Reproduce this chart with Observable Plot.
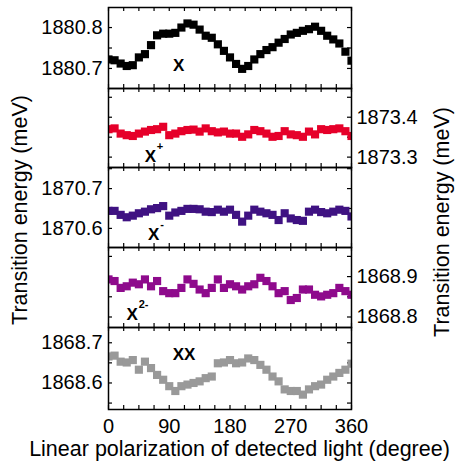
<!DOCTYPE html>
<html><head><meta charset="utf-8">
<script src="https://cdn.jsdelivr.net/npm/d3@7"></script>
<script src="https://cdn.jsdelivr.net/npm/@observablehq/plot@0.6"></script>
<style>
body{margin:0;background:#fff;}
#chart{position:relative;width:455px;height:466px;overflow:hidden;font-family:"Liberation Sans",Arial,sans-serif;}
#chart svg{position:absolute;left:0;overflow:visible;}
.ytitle{position:absolute;font-size:21.5px;white-space:nowrap;line-height:1;transform:translate(-50%,-50%) rotate(-90deg);color:#000;}
</style>
</head><body>
<div id="chart"></div>
<script>
const angles = [0,9,18,27,36,45,54,63,72,81,90,99,108,117,126,135,144,153,162,171,180,189,198,207,216,225,234,243,252,261,270,279,288,297,306,315,324,333,342,351,360];

const seriesX = [1880.722,1880.720,1880.712,1880.706,1880.708,1880.727,1880.735,1880.757,1880.781,1880.785,1880.785,1880.787,1880.800,1880.810,1880.807,1880.795,1880.780,1880.775,1880.759,1880.743,1880.727,1880.711,1880.699,1880.706,1880.722,1880.735,1880.745,1880.752,1880.763,1880.772,1880.783,1880.787,1880.792,1880.796,1880.802,1880.792,1880.780,1880.771,1880.761,1880.741,1880.719];
const seriesXplus = [1873.370,1873.372,1873.359,1873.355,1873.353,1873.359,1873.364,1873.368,1873.370,1873.376,1873.355,1873.359,1873.365,1873.368,1873.369,1873.364,1873.372,1873.365,1873.362,1873.364,1873.359,1873.359,1873.351,1873.357,1873.368,1873.365,1873.359,1873.351,1873.353,1873.365,1873.357,1873.355,1873.351,1873.364,1873.357,1873.370,1873.368,1873.370,1873.372,1873.365,1873.353];
const seriesXminus = [1870.644,1870.644,1870.634,1870.628,1870.632,1870.638,1870.642,1870.648,1870.651,1870.656,1870.632,1870.640,1870.644,1870.649,1870.649,1870.648,1870.642,1870.641,1870.647,1870.642,1870.647,1870.634,1870.617,1870.632,1870.647,1870.642,1870.638,1870.634,1870.621,1870.638,1870.625,1870.621,1870.619,1870.642,1870.647,1870.641,1870.638,1870.642,1870.647,1870.644,1870.630];
const seriesX2minus = [1868.893,1868.889,1868.872,1868.876,1868.885,1868.881,1868.893,1868.876,1868.889,1868.864,1868.859,1868.859,1868.872,1868.893,1868.882,1868.868,1868.859,1868.872,1868.893,1868.872,1868.881,1868.876,1868.868,1868.876,1868.881,1868.897,1868.889,1868.876,1868.859,1868.864,1868.842,1868.847,1868.868,1868.868,1868.855,1868.851,1868.855,1868.859,1868.872,1868.864,1868.855];
const seriesXX = [1868.666,1868.668,1868.653,1868.651,1868.657,1868.633,1868.653,1868.637,1868.620,1868.608,1868.592,1868.580,1868.592,1868.596,1868.600,1868.604,1868.612,1868.616,1868.649,1868.651,1868.657,1868.649,1868.651,1868.661,1868.657,1868.645,1868.633,1868.616,1868.604,1868.584,1868.580,1868.580,1868.571,1868.584,1868.592,1868.596,1868.608,1868.616,1868.625,1868.633,1868.648];

const xTicks = [0,22.5,45,67.5,90,112.5,135,157.5,180,202.5,225,247.5,270,292.5,315,337.5,360];
const xTickLabels = [0,90,180,270,360];

const yTicksX = [1880.70,1880.75,1880.80];
const yLabelsX = [1880.7,1880.8];
const yTicksXplus = [1873.30,1873.35,1873.40,1873.45];
const yLabelsXplus = [1873.3,1873.4];
const yTicksXminus = [1870.60,1870.65,1870.70,1870.75];
const yLabelsXminus = [1870.6,1870.7];
const yTicksX2minus = [1868.80,1868.85,1868.90,1868.95];
const yLabelsX2minus = [1868.8,1868.9];
const yTicksXX = [1868.55,1868.60,1868.65,1868.70];
const yLabelsXX = [1868.6,1868.7];

const xTitle = "Linear polarization of detected light (degree)";
const yTitle = "Transition energy (meV)";

const panels = [
  {values: seriesX, color: "#000000", domain: [1880.651,1880.849], ticks: yTicksX, labels: yLabelsX, side: "left", top: 7, bottom: 88,
   name: {x: 104, y: 1880.707, t: "X", sup: ""}},
  {values: seriesXplus, color: "#e6002a", domain: [1873.274,1873.472], ticks: yTicksXplus, labels: yLabelsXplus, side: "right", top: 88, bottom: 167,
   name: {x: 62, y: 1873.302, t: "X", sup: "+"}},
  {values: seriesXminus, color: "#3f1282", domain: [1870.552,1870.753], ticks: yTicksXminus, labels: yLabelsXminus, side: "left", top: 167, bottom: 247,
   name: {x: 67, y: 1870.585, t: "X", sup: "-"}},
  {values: seriesX2minus, color: "#8e0a8c", domain: [1868.774,1868.972], ticks: yTicksX2minus, labels: yLabelsX2minus, side: "right", top: 247, bottom: 327,
   name: {x: 35, y: 1868.806, t: "X", sup: "2-"}},
  {values: seriesXX, color: "#999999", domain: [1868.534,1868.738], ticks: yTicksXX, labels: yLabelsXX, side: "left", top: 327, bottom: 409,
   name: {x: 112, y: 1868.671, t: "XX", sup: ""}, last: true}
];

const chart = document.getElementById("chart");
const font = '"Liberation Sans", Arial, sans-serif';

panels.forEach(p => {
  const data = angles.map((a, i) => ({a, v: p.values[i]}));
  const mb = p.last ? 57 : 2;
  const lo = p.domain[0], hi = p.domain[1];
  const marks = [
    Plot.ruleX(xTicks, {x: d => d, y1: () => lo, y2: () => lo, insetTop: -4, stroke: "#000", strokeWidth: 1.2}),
    Plot.ruleX(xTicks, {x: d => d, y1: () => hi, y2: () => hi, insetBottom: -4, stroke: "#000", strokeWidth: 1.2}),
    Plot.ruleY(p.ticks, {y: d => d, x1: () => 0, x2: () => 0, insetRight: -4, stroke: "#000", strokeWidth: 1.2}),
    Plot.ruleY(p.ticks, {y: d => d, x1: () => 360, x2: () => 360, insetLeft: -4, stroke: "#000", strokeWidth: 1.2}),
    Plot.dot(data, {x: "a", y: "v", symbol: "square", r: 4.6, fill: p.color, stroke: "none", clip: true}),
    Plot.frame({stroke: "#000", strokeWidth: 1.5}),
    p.side === "left"
      ? Plot.text(p.labels, {x: () => 0, y: d => d, text: d => d.toFixed(1), textAnchor: "end", dx: -6, fontSize: 20, fill: "#000"})
      : Plot.text(p.labels, {x: () => 360, y: d => d, text: d => d.toFixed(1), textAnchor: "start", dx: 5, fontSize: 20, fill: "#000"}),
    Plot.text([p.name], {x: "x", y: "y", text: "t", fontSize: 17, fontWeight: "bold", fill: "#000"}),
    Plot.text([p.name], {x: "x", y: "y", text: "sup", fontSize: 11, fontWeight: "bold", fill: "#000", textAnchor: "start", dx: 6.5, dy: -10})
  ];
  if (p.last) {
    marks.push(Plot.text(xTickLabels, {x: d => d, y: () => lo, text: d => String(d), dy: 17, fontSize: 20, fill: "#000"}));
    marks.push(Plot.text([xTitle], {frameAnchor: "bottom", lineAnchor: "middle", text: d => d, dy: 40, dx: 9.5, fontSize: 21.5, fill: "#000"}));
  }
  const svg = Plot.plot({
    width: 455,
    height: (p.bottom - p.top) + 2 + mb,
    marginTop: 2, marginBottom: mb, marginLeft: 108, marginRight: 104,
    x: {domain: [0, 360], axis: null},
    y: {domain: p.domain, axis: null},
    style: {fontFamily: font, background: "transparent", overflow: "visible"},
    marks
  });
  svg.style.top = (p.top - 2) + "px";
  chart.appendChild(svg);
});

const lt = document.createElement("div");
lt.className = "ytitle"; lt.textContent = yTitle;
lt.style.left = "21px"; lt.style.top = "210px";
chart.appendChild(lt);
const rt = document.createElement("div");
rt.className = "ytitle"; rt.textContent = yTitle;
rt.style.left = "443px"; rt.style.top = "222px";
chart.appendChild(rt);
</script>
</body></html>
